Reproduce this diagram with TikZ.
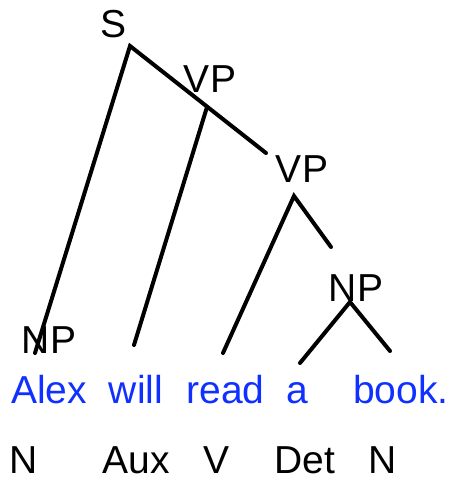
\documentclass[tikz,border=0pt]{standalone}
\usepackage{fontspec}
\setmainfont{Liberation Sans}
\definecolor{wordblue}{RGB}{16,48,255}
\begin{document}
\begin{tikzpicture}[x=1pt,y=-1pt,
  lbl/.style={inner sep=0pt,anchor=base,font=\fontsize{39}{39}\selectfont},
  word/.style={lbl,text=wordblue},
  branch/.style={line width=4pt,line cap=round}]
\useasboundingbox (0,0) rectangle (452,484);
% category labels
\node[lbl] (S) at (113.5,38) {S};
\node[lbl] (VP1) at (210,93) {VP};
\node[lbl] (VP2) at (302,182) {VP};
\node[lbl] (NPr) at (356,301) {NP};
\node[lbl] (NPl) at (49,353) {NP};
% words
\node[word] (w1) at (49,403) {Alex};
\node[word] (w2) at (136,403) {will};
\node[word] (w3) at (225.5,403) {read};
\node[word] (w4) at (297.5,403) {a};
\node[word] (w5) at (401,403) {book.};
% POS tags
\node[lbl] (t1) at (23.5,473) {N};
\node[lbl] (t2) at (136.5,473) {Aux};
\node[lbl] (t3) at (216.5,473) {V};
\node[lbl] (t4) at (305,473) {Det};
\node[lbl] (t5) at (382.5,473) {N};
% branch points
\coordinate (sTop) at (130,46);
\coordinate (sL) at (35,353);
\coordinate (sR) at (266,153);
\coordinate (vpTop) at (207,107);
\coordinate (vpL) at (134,345);
\coordinate (vp2Top) at (294,196);
\coordinate (vp2L) at (223,353);
\coordinate (vp2R) at (331,247);
\coordinate (npTop) at (350,302);
\coordinate (npL) at (300,363);
\coordinate (npR) at (390,351);
% branches
\draw[branch] (sL) -- (sTop) -- (sR);
\draw[branch] (vpTop) -- (vpL);
\draw[branch] (vp2L) -- (vp2Top) -- (vp2R);
\draw[branch] (npL) -- (npTop) -- (npR);
\end{tikzpicture}
\end{document}
